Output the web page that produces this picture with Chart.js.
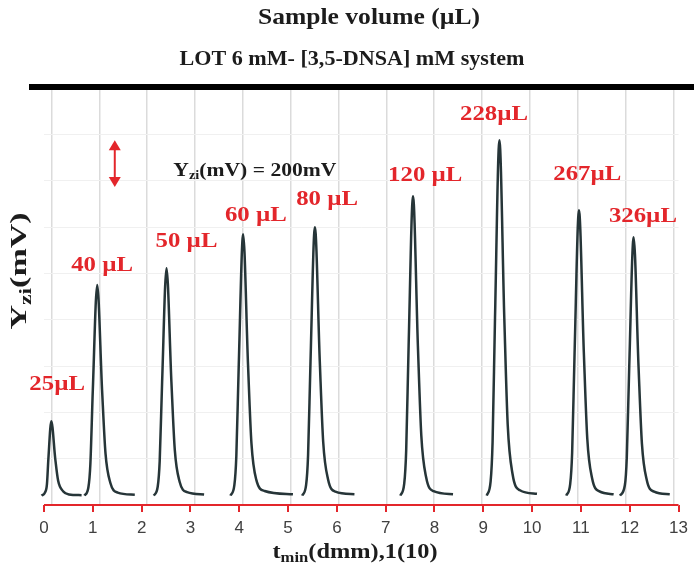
<!DOCTYPE html>
<html>
<head>
<meta charset="utf-8">
<script src="https://cdn.jsdelivr.net/npm/chart.js@4"></script>
<style>
  html, body { margin:0; padding:0; background:#fff; }
  #wrap { width:694px; height:569px; }
</style>
</head>
<body>
<div id="wrap"><canvas id="chart" width="694" height="569"></canvas></div>
<script>
// sample volumes, one peak each
const volumeLabels = ['25µL', '40 µL', '50 µL', '60 µL', '80 µL', '120 µL', '228µL', '267µL', '326µL'];

// time axis ticks, t_min (dmm)
const timeTicks = [0, 1, 2, 3, 4, 5, 6, 7, 8, 9, 10, 11, 12, 13];

// traced peak outlines: time and signal (mV)
const peakTimes = [
  [-0.05, 0.02, 0.06, 0.09, 0.15, 0.23, 0.29, 0.39, 0.51, 0.77],
  [0.83, 0.91, 0.95, 1.00, 1.09, 1.19, 1.26, 1.36, 1.51, 1.86],
  [2.25, 2.33, 2.37, 2.42, 2.51, 2.61, 2.68, 2.78, 2.93, 3.28],
  [3.82, 3.90, 3.94, 3.99, 4.08, 4.18, 4.25, 4.35, 4.52, 5.10],
  [5.29, 5.37, 5.41, 5.46, 5.55, 5.65, 5.72, 5.82, 5.97, 6.36],
  [7.30, 7.38, 7.42, 7.47, 7.56, 7.66, 7.73, 7.83, 7.98, 8.38],
  [9.07, 9.15, 9.19, 9.24, 9.33, 9.43, 9.50, 9.60, 9.75, 10.10],
  [10.70, 10.78, 10.82, 10.87, 10.96, 11.06, 11.13, 11.23, 11.38, 11.67],
  [11.80, 11.90, 11.94, 11.99, 12.08, 12.18, 12.25, 12.35, 12.50, 12.82]
];
const peakSignals = [
  [0, 13, 48, 158, 317, 158, 63, 19, 5, 2],
  [0, 36, 135, 450, 899, 450, 180, 54, 13, 4],
  [0, 39, 146, 486, 971, 486, 194, 58, 15, 5],
  [0, 45, 167, 558, 1116, 558, 223, 67, 20, 6],
  [0, 46, 172, 573, 1146, 573, 229, 69, 17, 6],
  [0, 51, 192, 639, 1278, 639, 256, 77, 19, 6],
  [0, 61, 228, 759, 1517, 759, 303, 91, 23, 8],
  [0, 49, 183, 609, 1218, 609, 244, 73, 18, 6],
  [0, 44, 165, 552, 1103, 552, 221, 66, 17, 6]
];

// scale bar value
const scaleBarMv = 200;

const RED = '#e3262b';
const INK = '#1c1c1c';
const SERIF = '"Liberation Serif", "Times New Roman", serif';

// label anchors (time, mV) for the volume tags
const tagAnchors = [
  [0.27, 477], [1.19, 984], [2.92, 1086], [4.34, 1197], [5.80, 1265],
  [7.81, 1367], [9.22, 1627], [11.13, 1372], [12.27, 1193]
];

// draws text made of parts ([text, isSub]) squeezed/stretched to a width
function fitText(ctx, parts, cx, cy, size, width, color, rotate) {
  ctx.save();
  ctx.translate(cx, cy);
  if (rotate) ctx.rotate(-Math.PI / 2);
  const big = 'bold ' + size + 'px ' + SERIF;
  const small = 'bold ' + Math.round(size * 0.68) + 'px ' + SERIF;
  let w = 0;
  parts.forEach(p => { ctx.font = p[1] ? small : big; w += ctx.measureText(p[0]).width; });
  ctx.scale(width / w, 1);
  ctx.fillStyle = color;
  ctx.textBaseline = 'middle';
  ctx.textAlign = 'left';
  let x = -w / 2;
  parts.forEach(p => {
    ctx.font = p[1] ? small : big;
    ctx.fillText(p[0], x, p[1] ? size * 0.28 : 0);
    x += ctx.measureText(p[0]).width;
  });
  ctx.restore();
}

const decor = {
  id: 'decor',
  beforeDatasetsDraw(chart) {
    const { ctx, chartArea, scales } = chart;
    const x = scales.x;
    // red time axis
    ctx.save();
    ctx.strokeStyle = RED;
    ctx.lineWidth = 2;
    ctx.beginPath();
    ctx.moveTo(x.getPixelForValue(0), chartArea.bottom);
    ctx.lineTo(x.getPixelForValue(13), chartArea.bottom);
    ctx.stroke();
    ctx.restore();
  },
  afterDraw(chart) {
    const { ctx, chartArea, scales } = chart;
    const x = scales.x, y = scales.y;

    // thick top rule
    ctx.save();
    ctx.strokeStyle = '#000';
    ctx.lineWidth = 6;
    ctx.beginPath();
    ctx.moveTo(29, chartArea.top - 1);
    ctx.lineTo(694, chartArea.top - 1);
    ctx.stroke();
    ctx.restore();

    fitText(ctx, [['Sample volume (µL)']], 369, 18, 24, 222, INK);
    fitText(ctx, [['LOT 6 mM- [3,5-DNSA] mM system']], 352, 60, 20, 345, INK);
    fitText(ctx, [['Y'], ['zi', 1], ['(mV)']], 20, 271, 23, 117, INK, true);
    fitText(ctx, [['t'], ['min', 1], ['(dmm),1(10)']], 355, 552, 22, 165, INK);

    // scale bar: double arrow + note
    const ax = x.getPixelForValue(1.45);
    const y1 = y.getPixelForValue(1517), y0 = y.getPixelForValue(1517 - scaleBarMv);
    ctx.save();
    ctx.strokeStyle = RED; ctx.fillStyle = RED; ctx.lineWidth = 2;
    ctx.beginPath(); ctx.moveTo(ax, y1 + 6); ctx.lineTo(ax, y0 - 6); ctx.stroke();
    ctx.beginPath(); ctx.moveTo(ax, y1); ctx.lineTo(ax - 6, y1 + 10); ctx.lineTo(ax + 6, y1 + 10); ctx.closePath(); ctx.fill();
    ctx.beginPath(); ctx.moveTo(ax, y0); ctx.lineTo(ax - 6, y0 - 10); ctx.lineTo(ax + 6, y0 - 10); ctx.closePath(); ctx.fill();
    ctx.restore();
    fitText(ctx, [['Y'], ['zi', 1], ['(mV) = ' + scaleBarMv + 'mV']],
      x.getPixelForValue(4.32), y.getPixelForValue(1385), 18, 163, INK);

    // volume tags
    volumeLabels.forEach((txt, i) => {
      const a = tagAnchors[i];
      ctx.save();
      ctx.font = 'bold 20px ' + SERIF;
      const w = ctx.measureText(txt).width;
      ctx.restore();
      fitText(ctx, [[txt]], x.getPixelForValue(a[0]), y.getPixelForValue(a[1]), 22, w * 1.24, RED);
    });
  }
};

const datasets = peakTimes.map((ts, i) => ({
  label: volumeLabels[i],
  data: ts.map((t, j) => ({ x: t, y: peakSignals[i][j] })),
  borderColor: '#263538',
  borderWidth: 2.5,
  pointRadius: 0,
  fill: false,
  cubicInterpolationMode: 'monotone',
  clip: false
}));

new Chart(document.getElementById('chart'), {
  type: 'line',
  data: { datasets },
  options: {
    responsive: false,
    animation: false,
    devicePixelRatio: 1,
    layout: { padding: { left: 44, right: 10, top: 88, bottom: 0 } },
    plugins: { legend: { display: false }, tooltip: { enabled: false } },
    scales: {
      x: {
        type: 'linear',
        min: 0, max: 13,
        afterBuildTicks: s => { s.ticks = timeTicks.map(v => ({ value: v })); },
        ticks: { color: '#404040', font: { family: '"Liberation Sans", Arial, sans-serif', size: 17 }, padding: 6 },
        grid: { drawOnChartArea: false, drawTicks: true, tickLength: 7, color: RED, lineWidth: 2 },
        border: { display: false },
        afterFit: s => { s.height = 64; }
      },
      xg: {
        type: 'linear',
        position: 'bottom',
        min: -0.156, max: 13.11,
        ticks: { display: false, stepSize: 1, includeBounds: false },
        grid: { color: 'rgba(0,0,0,0.14)', lineWidth: 1.5, drawTicks: false },
        border: { display: false },
        afterFit: s => { s.height = 0; }
      },
      y: {
        min: -40, max: 1740,
        ticks: { display: false, stepSize: 200 },
        grid: { color: '#f0f0f0', drawTicks: false },
        border: { display: false },
        afterFit: s => { s.width = 0; }
      }
    }
  },
  plugins: [decor]
});
</script>
</body>
</html>
